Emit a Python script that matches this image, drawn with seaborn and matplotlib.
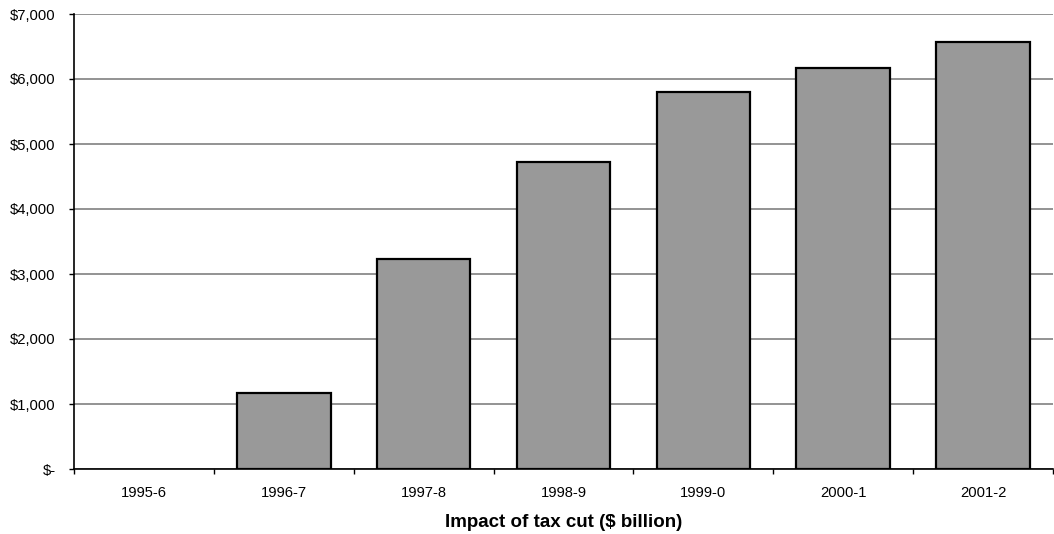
import matplotlib
matplotlib.use("Agg")
import matplotlib.pyplot as plt
import matplotlib.ticker as mticker
import seaborn as sns
import pandas as pd
import numpy as np

years = ["1995-6", "1996-7", "1997-8", "1998-9", "1999-0", "2000-1", "2001-2"]
impact = [0, 1170, 3230, 4720, 5800, 6170, 6570]

sns.set_theme(style="white")
plt.rcParams["font.family"] = ["Liberation Sans", "DejaVu Sans"]

df = pd.DataFrame({"year": years, "impact": impact})

fig = plt.figure(figsize=(10.54, 5.34), dpi=100)
ax = fig.add_axes([74 / 1054, 1 - 469 / 534, 1 - 75 / 1054, (469 - 14) / 534])

sns.barplot(data=df, x="year", y="impact", color="#999999", saturation=1,
            width=0.67, edgecolor="black", linewidth=1.6, ax=ax, zorder=3)

# a zero value leaves no visible bar outline
for patch in ax.patches:
    if patch.get_height() == 0:
        patch.set_linewidth(0)

ax.set_ylim(0, 7000)
ax.set_xlim(-0.5, len(years) - 0.5)
ax.yaxis.set_major_locator(mticker.MultipleLocator(1000))
ax.yaxis.set_major_formatter(
    mticker.FuncFormatter(lambda v, p: "$-" if v == 0 else f"${v:,.0f}"))
ax.grid(axis="y", color="#808080", linewidth=1.2, zorder=0)
ax.set_axisbelow(True)

# category boundaries carry the x tick marks; labels sit at centres
ax.set_xticks(np.arange(len(years)))
ax.set_xticklabels(years)
ax.set_xticks(np.arange(len(years) + 1) - 0.5, minor=True)
ax.tick_params(axis="x", which="major", bottom=True, length=0, pad=12.5,
               labelsize=10.6, colors="black")
ax.tick_params(axis="x", which="minor", bottom=True, length=3.6, width=1,
               color="black", direction="out")
ax.tick_params(axis="y", length=3.6, width=1, color="black", direction="out",
               labelsize=10.6, pad=9.5, left=True, labelcolor="black")

for side in ["top", "right"]:
    ax.spines[side].set_visible(False)
for side in ["left", "bottom"]:
    ax.spines[side].set_color("black")
    ax.spines[side].set_linewidth(1.2)
    ax.spines[side].set_zorder(4)

ax.set_ylabel("")
ax.set_xlabel("Impact of tax cut ($ billion)", fontsize=13.5, fontweight="bold",
              labelpad=9.5, color="black")

fig.savefig("out.png", dpi=100, facecolor="white")
